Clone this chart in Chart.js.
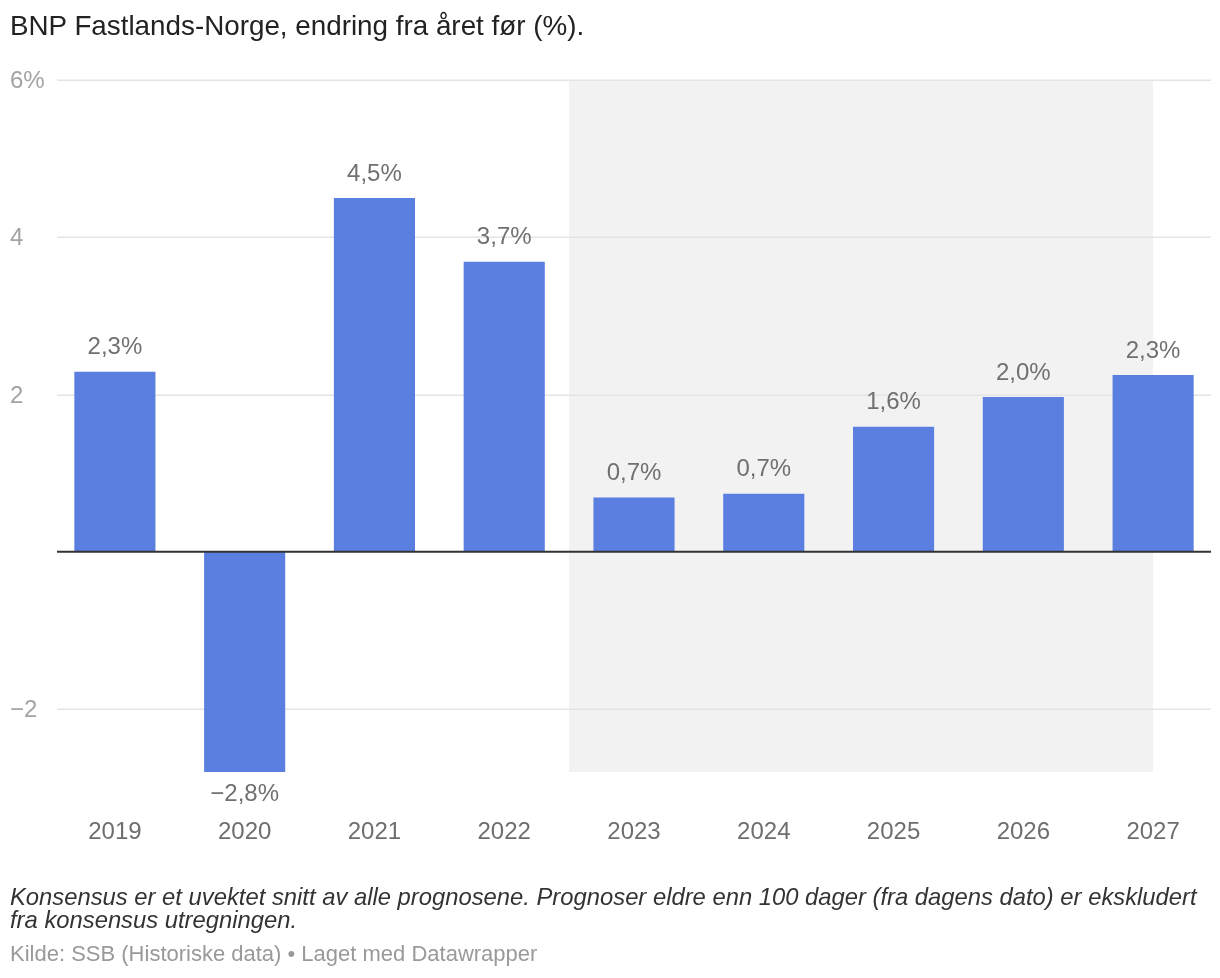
<!DOCTYPE html>
<html>
<head>
<meta charset="utf-8">
<script src="https://cdn.jsdelivr.net/npm/chart.js@4/dist/chart.umd.min.js"></script>
<style>
  html, body { margin: 0; padding: 0; background: #fff; }
  body { width: 1220px; height: 978px; position: relative; overflow: hidden;
         font-family: "Liberation Sans", Arial, Helvetica, sans-serif; }
  #chart { position: absolute; left: 0; top: 0; }
  .title { position: absolute; left: 10px; top: 10px; font-size: 27.8px; line-height: 32px; color: #222; white-space: nowrap; }
  .note { position: absolute; left: 10px; top: 885px; font-size: 23.8px; line-height: 23px; color: #333; font-style: italic; width: 1210px; white-space: nowrap; }
  .source { position: absolute; left: 10px; top: 941px; font-size: 22px; line-height: 26px; color: #999; white-space: nowrap; }
</style>
</head>
<body>
<canvas id="chart" width="1220" height="978"></canvas>
<div class="title">BNP Fastlands-Norge, endring fra året før (%).</div>
<div class="note">Konsensus er et uvektet snitt av alle prognosene. Prognoser eldre enn 100 dager (fra dagens dato) er ekskludert<br>fra konsensus utregningen.</div>
<div class="source">Kilde: SSB (Historiske data) • Laget med Datawrapper</div>
<script>
// ---- data ----
const years = ['2019', '2020', '2021', '2022', '2023', '2024', '2025', '2026', '2027'];
const growth = [2.29, -2.8, 4.5, 3.69, 0.69, 0.74, 1.59, 1.97, 2.25];
const yTicks = [-2, 0, 2, 4, 6];
const yTickLabels = ['\u22122', '', '2', '4', '6%'];
const forecastFrom = '2023';
const yMin = -2.8;
const yMax = 6;

const FONT = '"Liberation Sans", Arial, Helvetica, sans-serif';

function fmtPct(v) {
  const s = Math.abs(v).toFixed(1).replace('.', ',');
  return (v < 0 ? '\u2212' : '') + s + '%';
}

const backdrop = {
  id: 'backdrop',
  beforeDatasetsDraw(chart) {
    const { ctx, chartArea: a, scales: { x, y } } = chart;
    ctx.save();
    // forecast shading
    const i0 = years.indexOf(forecastFrom);
    const left = (x.getPixelForValue(i0 - 1) + x.getPixelForValue(i0)) / 2;
    const right = x.getPixelForValue(years.length - 1);
    ctx.fillStyle = '#f2f2f2';
    ctx.fillRect(left, y.getPixelForValue(yMax), right - left, y.getPixelForValue(yMin) - y.getPixelForValue(yMax));
    // gridlines + y labels
    ctx.strokeStyle = '#e4e4e4';
    ctx.lineWidth = 1.5;
    ctx.font = '24px ' + FONT;
    ctx.fillStyle = '#a3a3a3';
    ctx.textBaseline = 'middle';
    ctx.textAlign = 'left';
    yTicks.forEach((t, i) => {
      const py = Math.round(y.getPixelForValue(t)) + 0.25;
      if (t !== 0) {
        ctx.beginPath();
        ctx.moveTo(a.left + 7, py);
        ctx.lineTo(a.right - 7, py);
        ctx.stroke();
      }
      if (yTickLabels[i]) ctx.fillText(yTickLabels[i], 10, py + 1);
    });
    ctx.restore();
  },
  afterDatasetsDraw(chart) {
    const { ctx, chartArea: a, scales: { y } } = chart;
    ctx.save();
    // zero line
    const p0 = y.getPixelForValue(0);
    ctx.strokeStyle = '#333';
    ctx.lineWidth = 2;
    ctx.beginPath();
    ctx.moveTo(a.left + 7, p0);
    ctx.lineTo(a.right - 7, p0);
    ctx.stroke();
    // value labels
    ctx.font = '24px ' + FONT;
    ctx.fillStyle = '#707070';
    ctx.textAlign = 'center';
    ctx.textBaseline = 'middle';
    const meta = chart.getDatasetMeta(0);
    meta.data.forEach((bar, i) => {
      const v = growth[i];
      const ty = v >= 0 ? bar.y - 24 : bar.y + 22;
      ctx.fillText(fmtPct(v), bar.x, ty);
    });
    ctx.restore();
  }
};

new Chart(document.getElementById('chart'), {
  type: 'bar',
  data: {
    labels: years,
    datasets: [{
      data: growth,
      backgroundColor: '#5a7fe0',
      borderWidth: 0,
      categoryPercentage: 1,
      barPercentage: 0.625
    }]
  },
  options: {
    responsive: false,
    animation: false,
    devicePixelRatio: 1,
    layout: { padding: { top: 80, left: 50, right: 2, bottom: 136 } },
    plugins: { legend: { display: false }, tooltip: { enabled: false }, title: { display: false } },
    scales: {
      x: {
        grid: { display: false, drawTicks: true, tickLength: 46 },
        border: { display: false },
        ticks: { color: '#6e6e6e', font: { size: 24, family: FONT }, padding: 0, maxRotation: 0 },
        afterFit(s) { s.height = 70; }
      },
      y: {
        display: false,
        min: yMin,
        max: yMax
      }
    }
  },
  plugins: [backdrop]
});
</script>
</body>
</html>
